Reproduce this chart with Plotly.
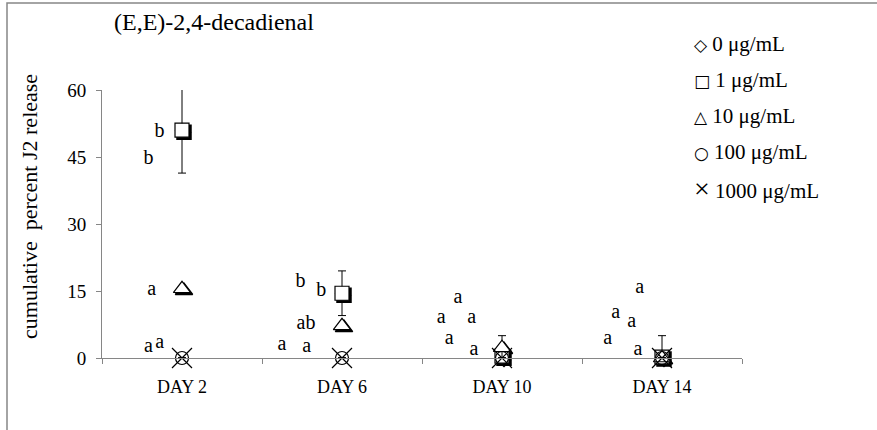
import plotly.graph_objects as go

# ---------------- data ----------------
days = ["DAY 2", "DAY 6", "DAY 10", "DAY 14"]
series_names = ["0 μg/mL", "1 μg/mL", "10 μg/mL", "100 μg/mL", "1000 μg/mL"]
legend_glyphs = ["◇", "□", "△", "○", "×"]

v_0 = [51.0, 14.5, 0.0, 0.0]
v_1 = [51.0, 14.5, 0.4, 0.2]
v_10 = [15.5, 7.2, 2.3, 0.0]
v_100 = [0.0, 0.0, 0.0, 0.0]
v_1000 = [0.0, 0.0, 0.0, 0.0]

err_0 = [None, None, None, None]
err_1 = [9.6, 5.0, None, 4.8]
err_10 = [None, None, 2.7, None]
err_100 = [None, None, None, None]
err_1000 = [None, None, None, None]

# significance letters (day index, offset from day centre, y value)
letter_text = ["b", "b", "a", "a", "a",
               "b", "b", "ab", "a", "a",
               "a", "a", "a", "a", "a",
               "a", "a", "a", "a", "a"]
letter_day = [0] * 5 + [1] * 5 + [2] * 5 + [3] * 5
letter_dx = [-0.14, -0.21, -0.19, -0.21, -0.14,
             -0.13, -0.26, -0.225, -0.375, -0.22,
             -0.275, -0.38, -0.19, -0.33, -0.175,
             -0.14, -0.29, -0.19, -0.34, -0.15]
letter_y = [50.7, 44.6, 15.2, 2.4, 3.3,
            15.0, 17.0, 7.7, 2.8, 2.4,
            13.4, 8.9, 8.9, 4.2, 1.7,
            15.6, 10.0, 8.0, 4.2, 1.9]

title_text = "(E,E)-2,4-decadienal"
ytitle_text = "cumulative\u00a0\u00a0percent J2 release"

# ---------------- geometry ----------------
W, H = 877, 430
L, R, T, B = 102, 133, 90, 70
PW = W - L - R
PH = H - T - B
SH = 2  # shadow offset px
FONT = "Liberation Serif, Times New Roman, serif"
GLYPH_FONT = "DejaVu Sans"
GRAY = "#868686"

xpos = list(range(len(days)))
values = [v_0, v_1, v_10, v_100, v_1000]
errors = [err_0, err_1, err_10, err_100, err_1000]
symbols = ["diamond", "square", "triangle-up", "circle-open", "x-thin-open"]
sizes = [10, 14, 15, 13, 20]
shadowed = [True, True, True, False, False]

fig = go.Figure()

# shadows (lower subplot layer)
for vals, sym, sz, sh in zip(values, symbols, sizes, shadowed):
    if not sh:
        continue
    fig.add_trace(go.Scatter(
        x=xpos, y=vals, mode="markers", xaxis="x", yaxis="y",
        marker=dict(symbol=sym, size=sz, color="black",
                    line=dict(color="black", width=1.5)),
        showlegend=False, hoverinfo="skip", cliponaxis=False))

# main markers
for name, vals, errs, sym, sz in zip(series_names, values, errors, symbols, sizes):
    open_sym = sym.endswith("-open")
    fig.add_trace(go.Scatter(
        x=xpos, y=vals, mode="markers", name=name, xaxis="x2", yaxis="y2",
        marker=dict(symbol=sym, size=sz,
                    color="black" if open_sym else "white",
                    line=dict(color="black", width=1.2)),
        error_y=dict(type="data", array=errs, visible=True, color="black",
                     thickness=1, width=4),
        showlegend=False, cliponaxis=False))

# letters
fig.add_trace(go.Scatter(
    x=[d + o for d, o in zip(letter_day, letter_dx)], y=letter_y,
    mode="text", text=letter_text, textposition="middle center",
    textfont=dict(family=FONT, size=20, color="black"),
    xaxis="x2", yaxis="y2", showlegend=False, hoverinfo="skip", cliponaxis=False))

dxf = SH / PW
dyf = SH / PH
common_x = dict(range=[-0.5, 3.5], showgrid=False, zeroline=False, fixedrange=True)
common_y = dict(range=[0, 60], showgrid=False, zeroline=False, fixedrange=True)

fig.update_layout(
    width=W, height=H,
    margin=dict(l=L, r=R, t=T, b=B),
    paper_bgcolor="white", plot_bgcolor="rgba(0,0,0,0)",
    font=dict(family=FONT, color="black"),
    xaxis=dict(common_x, domain=[dxf, 1], anchor="y", visible=False),
    yaxis=dict(common_y, domain=[0, 1 - dyf], anchor="x", visible=False),
    xaxis2=dict(common_x, domain=[0, 1 - dxf], anchor="y2",
                tickmode="array", tickvals=xpos, ticktext=days, ticks="",
                showline=True, linecolor=GRAY, linewidth=1,
                minor=dict(ticks="outside", ticklen=5, tickcolor=GRAY,
                           tick0=-0.5, dtick=1, showgrid=False),
                tickfont=dict(family=FONT, size=18, color="black"),
                ticklabelstandoff=12),
    yaxis2=dict(common_y, domain=[dyf, 1], anchor="x2",
                tickmode="array", tickvals=[0, 15, 30, 45, 60],
                ticks="outside", ticklen=5, tickcolor=GRAY,
                showline=True, linecolor=GRAY, linewidth=1,
                ticklabelstandoff=6,
                tickfont=dict(family=FONT, size=19, color="black")),
    showlegend=False,
)

def px2paper_x(px):
    return (px - L) / PW

def px2paper_y(py):
    return (H - B - py) / PH

ann = []
ann.append(dict(text=title_text, xref="paper", yref="paper",
                x=px2paper_x(112), y=px2paper_y(22), xanchor="left", yanchor="middle",
                showarrow=False, font=dict(family=FONT, size=24, color="black")))
ann.append(dict(text=ytitle_text, xref="paper", yref="paper", textangle=-90,
                x=px2paper_x(29), y=px2paper_y(207), xanchor="center", yanchor="middle",
                showarrow=False, font=dict(family=FONT, size=22, color="black")))
for i, (g, nm) in enumerate(zip(legend_glyphs, series_names)):
    if g == "×":
        gspan = f"<span style='font-size:28px'>{g}</span>"
    else:
        gspan = f"<span style='font-family:{GLYPH_FONT};font-size:17px'>{g}</span>"
    ann.append(dict(text=f"{gspan} {nm}",
                    xref="paper", yref="paper",
                    x=px2paper_x(692), y=px2paper_y(44 + 36 * i),
                    xanchor="left", yanchor="middle", showarrow=False,
                    font=dict(family=FONT, size=21, color="black")))
fig.update_layout(annotations=ann)

# outer frame (top and left edges visible, rest beyond the page)
fig.add_shape(type="rect", xref="paper", yref="paper",
              x0=px2paper_x(7), x1=px2paper_x(900),
              y0=px2paper_y(440), y1=px2paper_y(3),
              line=dict(color=GRAY, width=1.5), fillcolor="rgba(0,0,0,0)", layer="below")

fig.write_html("out.html")
